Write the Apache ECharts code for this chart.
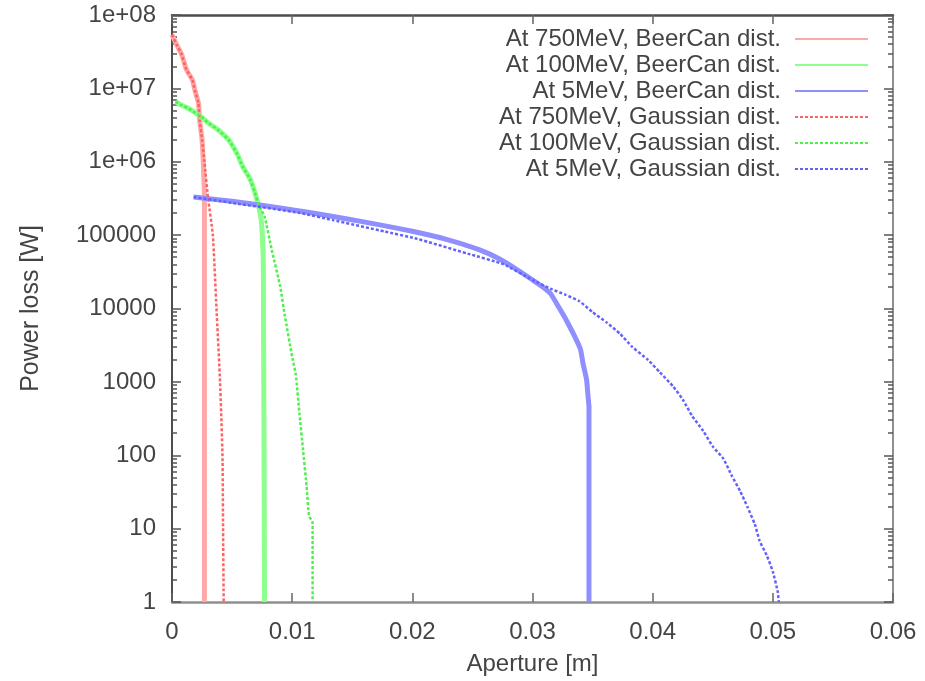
<!DOCTYPE html>
<html>
<head>
<meta charset="utf-8">
<script src="https://cdn.jsdelivr.net/npm/echarts@6/dist/echarts.min.js"></script>
<style>
  html, body { margin: 0; padding: 0; background: #fff; }
  #chart { width: 925px; height: 681px; }
</style>
</head>
<body>
<div id="chart"></div>
<script>
// values (aperture in m, power loss in W)
const legendNames = [
  'At 750MeV, BeerCan dist.',
  'At 100MeV, BeerCan dist.',
  'At 5MeV, BeerCan dist.',
  'At 750MeV, Gaussian dist.',
  'At 100MeV, Gaussian dist.',
  'At 5MeV, Gaussian dist.'
]

const beer750X = [0, 0.0004, 0.0008, 0.0012, 0.0017, 0.0019, 0.0022, 0.0023, 0.0025, 0.0026, 0.0027, 0.0027]
const beer750Y = [5.4e7, 3.9e7, 2.9e7, 1.8e7, 1.3e7, 9.5e6, 6.3e6, 3.7e6, 2.0e6, 1.0e6, 3.2e5, 1]

const beer100X = [0.0003, 0.0007, 0.0013, 0.0019, 0.0025, 0.003, 0.0038, 0.0047, 0.0054, 0.0059, 0.0065, 0.0069, 0.0072, 0.0074, 0.0075, 0.0076, 0.0077]
const beer100Y = [6.6e6, 6.0e6, 5.4e6, 4.7e6, 4.0e6, 3.4e6, 2.75e6, 2.0e6, 1.3e6, 8.5e5, 5.8e5, 3.8e5, 2.5e5, 1.7e5, 1.1e5, 4.0e4, 1]

const beer5X = [0.0018, 0.005, 0.009, 0.0117, 0.0146, 0.0173, 0.0201, 0.0229, 0.0256, 0.0273, 0.0287, 0.0300, 0.0308, 0.0315, 0.0321, 0.0326, 0.0329, 0.0335, 0.0340, 0.0342, 0.0345, 0.0346, 0.0347, 0.0347]
const beer5Y = [3.3e5, 2.9e5, 2.35e5, 2.0e5, 1.66e5, 1.38e5, 1.12e5, 8.7e4, 6.3e4, 4.7e4, 3.4e4, 2.45e4, 2.0e4, 1.6e4, 1.1e4, 8.0e3, 6.5e3, 4.2e3, 2.75e3, 1.8e3, 1.07e3, 700, 450, 1]

const gauss750X = [0, 0.0004, 0.0008, 0.0012, 0.0017, 0.0019, 0.0022, 0.0023, 0.0025, 0.0027, 0.003, 0.0034, 0.0037, 0.004, 0.0042, 0.00425, 0.0043]
const gauss750Y = [5.4e7, 3.9e7, 2.9e7, 1.8e7, 1.3e7, 9.5e6, 6.3e6, 3.7e6, 2.0e6, 1.0e6, 3.2e5, 1.0e5, 1.0e4, 1.0e3, 100, 10, 1]

const gauss100X = [0.0003, 0.0007, 0.0013, 0.0019, 0.0025, 0.003, 0.0038, 0.0047, 0.0054, 0.0059, 0.0065, 0.0069, 0.0072, 0.0077, 0.0083, 0.009, 0.0094, 0.01, 0.0103, 0.0106, 0.0109, 0.0112, 0.0114, 0.0117, 0.0117]
const gauss100Y = [6.6e6, 6.0e6, 5.4e6, 4.7e6, 4.0e6, 3.4e6, 2.75e6, 2.0e6, 1.3e6, 8.5e5, 5.8e5, 3.8e5, 2.6e5, 1.8e5, 6.3e4, 2.0e4, 7.8e3, 2.2e3, 1.26e3, 380, 120, 38, 15, 12, 1]

const gauss5X = [0.0018, 0.005, 0.0107, 0.0134, 0.0177, 0.0204, 0.0246, 0.0276, 0.0300, 0.0315, 0.0327, 0.0339, 0.035, 0.0362, 0.0373, 0.0383, 0.0396, 0.0406, 0.0417, 0.0425, 0.0433, 0.0442, 0.045, 0.0459, 0.0466, 0.0473, 0.0479, 0.0485, 0.0489, 0.0495, 0.05, 0.0504, 0.0505]
const gauss5Y = [3.3e5, 2.75e5, 2.0e5, 1.6e5, 1.12e5, 8.9e4, 5.6e4, 4.0e4, 2.45e4, 1.86e4, 1.55e4, 1.26e4, 8.9e3, 6.4e3, 4.5e3, 3.0e3, 2.0e3, 1.35e3, 870, 575, 340, 215, 132, 89, 52, 32, 19.5, 11.5, 6.8, 4.3, 2.6, 1.4, 1]

const yMajorTicks = [1, 10, 100, 1e3, 1e4, 1e5, 1e6, 1e7, 1e8]
const yTickLabels = ['1', '10', '100', '1000', '10000', '100000', '1e+06', '1e+07', '1e+08']

const pairs = (xs, ys) => xs.map((x, i) => [x, ys[i]])

let yMinorTicks = []
for (let d = 1; d < 1e8; d *= 10) {
  for (let k = 2; k <= 9; k++) {
    yMinorTicks.push(k * d)
  }
}

const fontFamily = '"Liberation Sans", Arial, sans-serif'
const textColor = '#444'

const yAxisBase = (position, major, showLine, lineColor) => ({
  type: 'log',
  logBase: 10,
  min: 1,
  max: 1e8,
  position: position,
  axisLine: { show: showLine, onZero: false, lineStyle: { color: lineColor, width: 2 } },
  axisTick: {
    show: true,
    inside: true,
    length: major ? 9 : 5,
    customValues: major ? yMajorTicks : yMinorTicks,
    lineStyle: { color: '#555', width: 1.5 }
  },
  axisLabel: { show: false },
  splitLine: { show: false },
  minorTick: { show: false }
})

const leftMain = yAxisBase('left', true, true, '#4d4d4d')
leftMain.name = 'Power loss [W]'
leftMain.nameLocation = 'middle'
leftMain.nameGap = 128
leftMain.nameTextStyle = { fontSize: 25, color: textColor, fontFamily: fontFamily }
leftMain.axisLabel = {
  show: true,
  margin: 16,
  fontSize: 24,
  color: textColor,
  fontFamily: fontFamily,
  customValues: yMajorTicks,
  formatter: (v) => {
    const idx = yMajorTicks.findIndex((t) => Math.abs(Math.log10(t) - Math.log10(v)) < 1e-6)
    return idx >= 0 ? yTickLabels[idx] : ''
  }
}

const xAxisBase = (position, lineColor) => ({
  type: 'value',
  min: 0,
  max: 0.06,
  interval: 0.01,
  position: position,
  axisLine: { show: true, onZero: false, lineStyle: { color: lineColor, width: 2.5 } },
  axisTick: { show: true, inside: true, length: 9, lineStyle: { color: '#666', width: 1.5 } },
  axisLabel: { show: false },
  splitLine: { show: false }
})

const bottomAxis = xAxisBase('bottom', '#8f8f8f')
bottomAxis.name = 'Aperture [m]'
bottomAxis.nameLocation = 'middle'
bottomAxis.nameGap = 50
bottomAxis.nameTextStyle = { fontSize: 24, color: textColor, fontFamily: fontFamily }
bottomAxis.axisLabel = {
  show: true,
  margin: 18,
  fontSize: 24,
  color: textColor,
  fontFamily: fontFamily,
  formatter: (v) => (v === 0 ? '0' : String(Number(v.toFixed(2))))
}

const solidLine = (name, data, color) => ({
  name: name,
  type: 'line',
  data: data,
  showSymbol: false,
  symbol: 'none',
  smooth: 0.15,
  lineStyle: { color: color, width: 5 },
  itemStyle: { color: color },
  emphasis: { disabled: true },
  z: 2
})

const dottedLine = (name, data, color) => ({
  name: name,
  type: 'line',
  data: data,
  showSymbol: false,
  symbol: 'none',
  smooth: 0.15,
  lineStyle: { color: color, width: 2.5, type: [3, 2] },
  itemStyle: { color: color },
  emphasis: { disabled: true },
  z: 3
})

const chart = echarts.init(document.getElementById('chart'))

const option = {
  backgroundColor: '#fff',
  animation: false,
  grid: { left: 172, top: 15, right: 32, bottom: 78, containLabel: false },
  legend: {
    orient: 'vertical',
    align: 'right',
    right: 51,
    top: 22,
    itemWidth: 73,
    itemHeight: 12,
    itemGap: 2,
    itemStyle: { opacity: 0 },
    textStyle: { fontSize: 24, color: textColor, fontFamily: fontFamily, lineHeight: 24, padding: [0, 9, 0, 0] },
    data: legendNames
  },
  xAxis: [bottomAxis, xAxisBase('top', '#4d4d4d')],
  yAxis: [
    leftMain,
    yAxisBase('left', false, false, '#4d4d4d'),
    yAxisBase('right', true, true, '#8f8f8f'),
    yAxisBase('right', false, false, '#8f8f8f')
  ],
  series: [
    solidLine(legendNames[0], pairs(beer750X, beer750Y), '#ffa8a8'),
    solidLine(legendNames[1], pairs(beer100X, beer100Y), '#8cff8c'),
    solidLine(legendNames[2], pairs(beer5X, beer5Y), '#8f8fff'),
    dottedLine(legendNames[3], pairs(gauss750X, gauss750Y), '#ff6262'),
    dottedLine(legendNames[4], pairs(gauss100X, gauss100Y), '#4ef04e'),
    dottedLine(legendNames[5], pairs(gauss5X, gauss5Y), '#6262ff')
  ]
}

chart.setOption(option)
</script>
</body>
</html>
